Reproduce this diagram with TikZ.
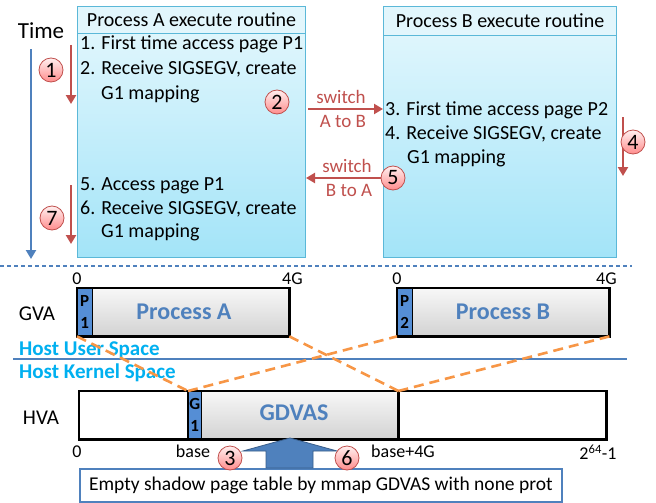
\documentclass[tikz,border=0pt]{standalone}
\usepackage{fontspec}
\setmainfont{Carlito}
\usetikzlibrary{arrows.meta}
\definecolor{accblue}{HTML}{4F81BD}
\definecolor{accbluedark}{HTML}{385D8A}
\definecolor{accred}{HTML}{C0504D}
\definecolor{accorange}{HTML}{F79646}
\definecolor{hostcyan}{HTML}{00B0F0}
\definecolor{boxedge}{HTML}{5BB8D8}
\definecolor{boxtop}{HTML}{E6F8FD}
\definecolor{boxbot}{HTML}{A3E4F8}
\definecolor{headfill}{HTML}{E2F6FC}
\definecolor{stripblue}{HTML}{558ED5}
\tikzset{
  procbox/.style={draw=boxedge, line width=1pt, top color=boxtop, bottom color=boxbot, anchor=north west, inner sep=0},
  headbox/.style={draw=boxedge, line width=1pt, fill=headfill, anchor=north west, inner sep=0},
  body/.style={font=\fontsize{20}{22}\selectfont, inner sep=0, anchor=west},
  redarrow/.style={draw=accred, line width=2.6pt, -{Triangle[length=9pt,width=10pt]}},
  swarrow/.style={draw=accred, line width=2.6pt, -{Triangle[length=9pt,width=10pt]}},
  swlabel/.style={font=\fontsize{19}{20}\selectfont, text=accred, inner sep=0},
  num/.style={circle, draw=accred, line width=0.8pt, top color=red!6, bottom color=red!45, minimum size=24pt, inner sep=0, font=\fontsize{22}{22}\selectfont},
  barshade/.style={top color=gray!6, bottom color=gray!35, anchor=north west, inner sep=0},
  barline/.style={draw=black, line width=2.4pt},
  strip/.style={fill=stripblue, anchor=north west, inner sep=0},
  striptext/.style={font=\fontsize{17}{22}\selectfont\bfseries, align=center, inner sep=0},
  bigname/.style={font=\fontsize{24}{26}\selectfont\bfseries, text=accblue, inner sep=0},
  small/.style={font=\fontsize{18}{20}\selectfont, inner sep=0},
  hostlabel/.style={font=\fontsize{21}{22}\selectfont\bfseries, text=hostcyan, inner sep=0, anchor=west},
  orange/.style={draw=accorange, line width=2.6pt, dash pattern=on 10pt off 6pt},
}
\begin{document}
\begin{tikzpicture}[x=1pt,y=-1pt]
\useasboundingbox[fill=white] (0,0) rectangle (656,503);

% ---- Process boxes
\node[procbox, minimum width=228pt, minimum height=251pt] (pa) at (77,6) {};
\node[headbox, minimum width=228pt, minimum height=27pt] (pah) at (77,6) {};
\node[font=\fontsize{20}{22}\selectfont, inner sep=0] (pat) at (pah.center) {Process A execute routine};
\node[procbox, minimum width=233pt, minimum height=251pt] (pb) at (383,6) {};
\node[headbox, minimum width=233pt, minimum height=29pt] (pbh) at (383,6) {};
\node[font=\fontsize{20}{22}\selectfont, inner sep=0] (pbt) at (pbh.center) {Process B execute routine};

% ---- Process A text
\node[body] (a1) at (80,44) {1. First time access page P1};
\node[body] (a2) at (80,69) {2. Receive SIGSEGV, create};
\node[body] (a3) at (101,94) {G1 mapping};
\node[body] (a5) at (80,186) {5. Access page P1};
\node[body] (a6) at (80,209) {6. Receive SIGSEGV, create};
\node[body] (a7) at (101,232) {G1 mapping};

% ---- Process B text
\node[body] (b3) at (385,110) {3. First time access page P2};
\node[body] (b4) at (385,134) {4. Receive SIGSEGV, create};
\node[body] (b5) at (407,158) {G1 mapping};

% ---- Time axis
\node[font=\fontsize{23}{24}\selectfont, inner sep=0] (time) at (41,31) {Time};
\coordinate (tend) at (31,259);
\draw[draw=accblue, line width=2.6pt, -{Triangle[length=9pt,width=10pt]}] ([yshift=-10pt]time.south -| tend) -- (tend);

% ---- red step arrows
\coordinate (r1a) at (71,45); \coordinate (r1b) at (71,104);
\draw[redarrow] (r1a) -- (r1b);
\node[num] (c1) at (51,70) {1};
\coordinate (r7a) at (71,185); \coordinate (r7b) at (71,244);
\draw[redarrow] (r7a) -- (r7b);
\node[num] (c7) at (52,218) {7};
\coordinate (r4a) at (623,117); \coordinate (r4b) at (623,176);
\draw[redarrow] (r4a) -- (r4b);
\node[num] (c4) at (633,142) {4};

% ---- switches
\node[num] (c2) at (277,102) {2};
\coordinate (s1a) at (308,109);
\draw[swarrow] (s1a) -- (s1a -| pb.west);
\node[swlabel] (s1t) at (341,97) {switch};
\node[swlabel] (s1b) at (343,121) {A to B};
\coordinate (s2a) at (385,178);
\draw[swarrow] (s2a) -- (s2a -| pa.east);
\node[num] (c5) at (393,178) {5};
\node[swlabel] (s2t) at (347,166) {switch};
\node[swlabel] (s2b) at (349,190) {B to A};

% ---- separator
\coordinate (sepl) at (0,266); \coordinate (sepr) at (632,266);
\draw[accblue, line width=1.3pt, dash pattern=on 4pt off 3pt] (sepl) -- (sepr);

% ---- GVA bars
\node[font=\fontsize{21}{22}\selectfont, inner sep=0] (gva) at (37,314) {GVA};
\node[barshade, minimum width=212pt, minimum height=48pt] (ga) at (77,288) {};
\node[strip, minimum width=15pt, minimum height=48pt] (p1) at (77,288) {};
\draw[barline] (ga.north west) rectangle (ga.south east);
\draw[black, line width=1.2pt] (p1.north east) -- (p1.south east);
\node[striptext] (p1t) at (p1.center) {P\\1};
\node[bigname] (gat) at (184,312) {Process A};
\node[small] (ga0) at (ga.north west) [above=3pt] {0};
\node[small] (ga4) at ([xshift=3pt]ga.north east) [above=3pt] {4G};

\node[barshade, minimum width=212pt, minimum height=48pt] (gb) at (397,288) {};
\node[strip, minimum width=15pt, minimum height=48pt] (p2) at (397,288) {};
\draw[barline] (gb.north west) rectangle (gb.south east);
\draw[black, line width=1.2pt] (p2.north east) -- (p2.south east);
\node[striptext] (p2t) at (p2.center) {P\\2};
\node[bigname] (gbt) at (503,312) {Process B};
\node[small] (gb0) at (gb.north west) [above=3pt] {0};
\node[small] (gb4) at ([xshift=-3pt]gb.north east) [above=3pt] {4G};

% ---- host spaces
\node[hostlabel] (hus) at (19,350) {Host User Space};
\coordinate (hl) at (13,359); \coordinate (hr) at (627,359);
\draw[accblue, line width=1.8pt] (hl) -- (hr);
\node[hostlabel] (hks) at (19,373) {Host Kernel Space};

% ---- HVA bar
\node[font=\fontsize{21}{22}\selectfont, inner sep=0] (hva) at (41,418) {HVA};
\node[anchor=north west, inner sep=0, minimum width=527pt, minimum height=48pt] (hv) at (79,391) {};
\node[barshade, minimum width=210pt, minimum height=48pt] (gd) at (188,391) {};
\node[strip, minimum width=13pt, minimum height=48pt] (g1) at (188,391) {};
\draw[black, line width=1.2pt] (g1.north east) -- (g1.south east);
\draw[barline] (hv.north west) rectangle (hv.south east);
\draw[barline] (gd.north west) -- (gd.south west);
\draw[barline] (gd.north east) -- (gd.south east);
\node[striptext] (g1t) at (g1.center) {G\\1};
\node[bigname] (gdt) at (294,413) {GDVAS};
\node[small] (h0) at (77,452) {0};
\node[small] (hbase) at (193,451) {base};
\node[small] (hbase4) at (403,451) {base+4G};
\node[small] (hmax) at (598,452) {2\textsuperscript{64}-1};

% ---- orange mapping lines
\draw[orange] (ga.south west) -- (gd.north west);
\draw[orange] (ga.south east) -- (gd.north east);
\draw[orange] (gd.north west) -- (gb.south west);
\draw[orange] (gd.north east) -- (gb.south east);

% ---- bottom box and big arrow
\node[draw=accblue, line width=1.8pt, fill=white, anchor=north west, minimum width=482pt, minimum height=33pt, inner sep=0] (eb) at (79,468) {};
\node[font=\fontsize{19.5}{21}\selectfont, inner sep=0] (ebt) at (eb.center) {Empty shadow page table by mmap GDVAS with none prot};
\coordinate (tip) at (290,438);
\fill[accblue, draw=accbluedark, line width=0.8pt] (266,468) -- (266,451) -- (243,451) -- (tip) -- (337,451) -- (313,451) -- (313,468) -- cycle;
\node[num] (c3) at (230,458) {3};
\node[num] (c6) at (347,458) {6};
\end{tikzpicture}
\end{document}
